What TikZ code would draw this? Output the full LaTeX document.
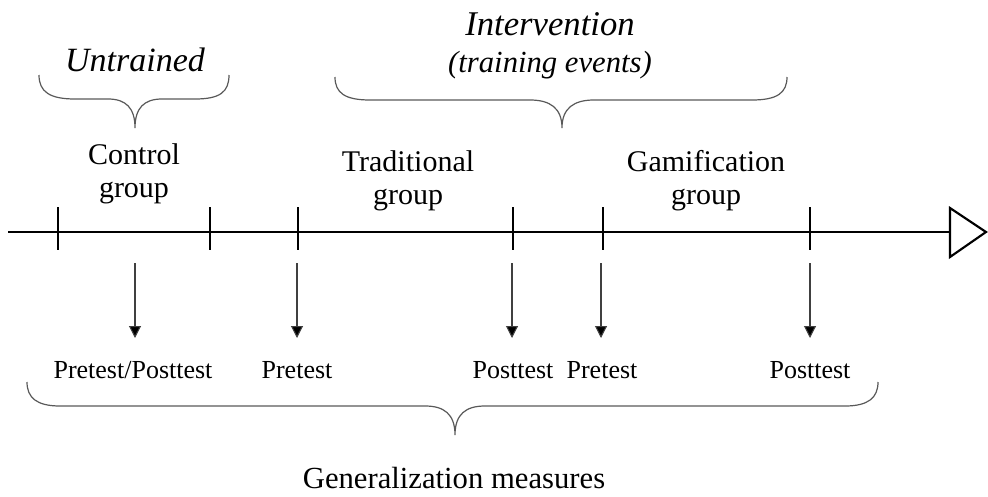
\documentclass[tikz,border=0pt]{standalone}
\usepackage{fontspec}
\setmainfont{Liberation Serif}
\usetikzlibrary{arrows.meta}

\begin{document}
\begin{tikzpicture}[x=0.75pt,y=-0.75pt,
  axisline/.style={line width=2.2pt,black},
  tick/.style={line width=2.2pt,black},
  brace/.style={draw=black!65,line width=0.9pt},
  meas/.style={draw=black!75,line width=0.8pt,-{Triangle[width=9pt,length=9pt,fill=black]}},
  grouplbl/.style={font=\fontsize{22.5}{24.75}\selectfont,align=center,anchor=base,inner sep=0pt},
  testlbl/.style={font=\fontsize{19.5}{22}\selectfont,anchor=base,inner sep=0pt},
  headlbl/.style={font=\fontsize{25.5}{28}\selectfont\itshape,anchor=base,inner sep=0pt}]
\useasboundingbox (0,0) rectangle (988,496);

% time axis and hollow arrowhead
\coordinate (start) at (8,232);
\coordinate (end) at (950,232);
\draw[axisline] (start) -- (end);
\draw[line width=1.6pt,fill=white,line join=miter] (950,208) -- (986,232) -- (950,257) -- cycle;

% tick marks
\foreach \name/\x in {t1/58,t2/210,t3/298,t4/513,t5/603,t6/810}{
  \coordinate (\name) at (\x,232);
  \draw[tick] (\x,207) -- (\x,250);
}

% group labels above the axis (anchored at the baseline of their last line)
\node[grouplbl] (ctrl) at (134,197) {Control\\group};
\node[grouplbl] (trad) at (408,204) {Traditional\\group};
\node[grouplbl] (gami) at (706,204) {Gamification\\group};

% braces
\draw[brace] (39,75) .. controls (39,92) and (50,99) .. (75,99)
  -- (108,99) .. controls (126,99) and (135,108) .. (135,128)
  .. controls (135,108) and (144,99) .. (162,99)
  -- (195,99) .. controls (220,99) and (229,92) .. (229,75);
\draw[brace] (335,77) .. controls (335,93) and (345,100) .. (370,100)
  -- (530,100) .. controls (550,100) and (562,108) .. (562,128)
  .. controls (562,108) and (574,100) .. (594,100)
  -- (752,100) .. controls (777,100) and (787,93) .. (787,77);
\draw[brace] (27,382) .. controls (27,398) and (37,406) .. (60,406)
  -- (425,406) .. controls (444,406) and (455,414) .. (455,435)
  .. controls (455,414) and (466,406) .. (485,406)
  -- (845,406) .. controls (868,406) and (878,398) .. (878,382);

% headings
\node[headlbl] (untr) at (135,71) {Untrained};
\node[headlbl,font=\fontsize{26}{28}\selectfont\itshape] (interv) at (550,35) {Intervention};
\node[headlbl,font=\fontsize{23}{26}\selectfont\itshape] (tev) at (550,72) {(training events)};

% measurement arrows
\foreach \name/\x in {m1/135,m2/297,m3/512,m4/601,m5/810}{
  \coordinate (\name a) at (\x,263);
  \coordinate (\name b) at (\x,338);
  \draw[meas] (\name a) -- (\name b);
}

% measurement labels
\node[testlbl] (l1) at (133,378) {Pretest/Posttest};
\node[testlbl] (l2) at (297,378) {Pretest};
\node[testlbl] (l3) at (513,378) {Posttest};
\node[testlbl] (l4) at (602,378) {Pretest};
\node[testlbl] (l5) at (810,378) {Posttest};

\node[grouplbl,font=\fontsize{23}{26}\selectfont] (gen) at (454,488) {Generalization measures};
\end{tikzpicture}
\end{document}
